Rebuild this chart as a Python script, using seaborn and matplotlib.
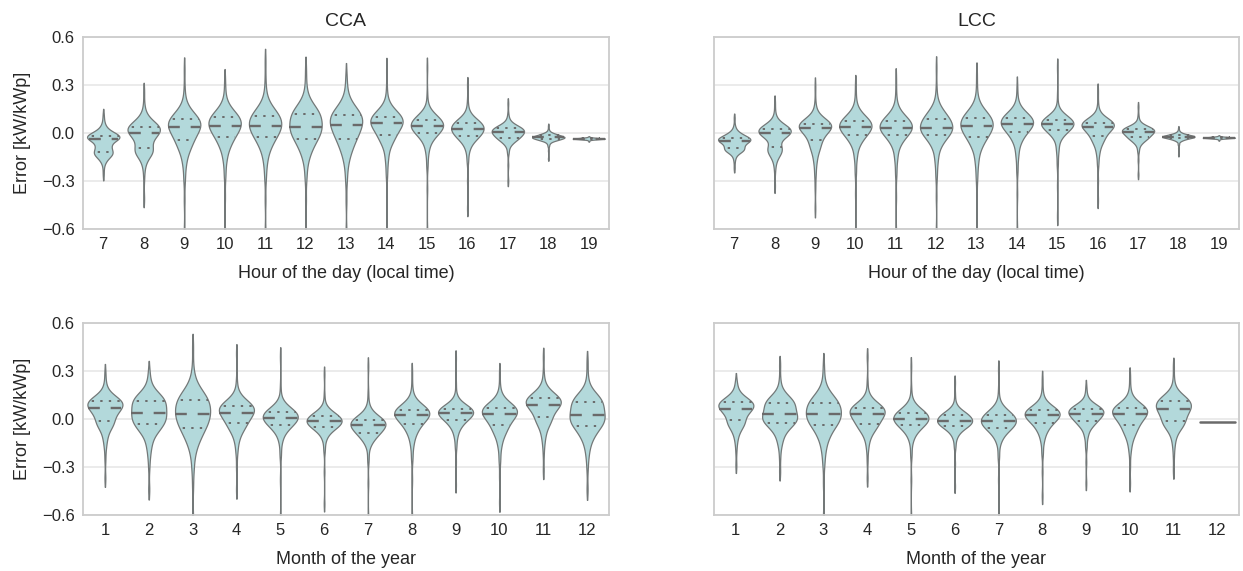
import numpy as np
import pandas as pd
import matplotlib
matplotlib.use("Agg")
import matplotlib.pyplot as plt
from matplotlib.ticker import FuncFormatter
import seaborn as sns

# ---------------- data ----------------
hours = [7, 8, 9, 10, 11, 12, 13, 14, 15, 16, 17, 18, 19]
months = [1, 2, 3, 4, 5, 6, 7, 8, 9, 10, 11, 12]

# number of observations at each listed error level (shared by every violin)
level_counts = [1, 1, 2, 4, 9, 11, 12, 12, 12, 11, 9, 4, 2, 1, 1]

# error levels [kW/kWp] for each violin, low tail -> q1 (6th) -> median (8th) -> q3 (10th) -> high tail
cca_hour_vals = [
    [-0.26, -0.215, -0.18, -0.16, -0.135, -0.117, -0.08, -0.04, -0.028, -0.017, 0.0, 0.025, 0.05, 0.08, 0.115],
    [-0.41, -0.28, -0.21, -0.16, -0.125, -0.096, -0.04, 0.0, 0.02, 0.04, 0.065, 0.095, 0.13, 0.18, 0.26],
    [-0.62, -0.42, -0.28, -0.18, -0.1, -0.044, 0.0, 0.0375, 0.06, 0.085, 0.115, 0.15, 0.2, 0.28, 0.4],
    [-0.62, -0.4, -0.26, -0.16, -0.08, -0.023, 0.015, 0.046, 0.072, 0.098, 0.125, 0.16, 0.2, 0.26, 0.33],
    [-0.62, -0.42, -0.27, -0.17, -0.085, -0.025, 0.012, 0.046, 0.076, 0.106, 0.14, 0.18, 0.24, 0.33, 0.45],
    [-0.62, -0.42, -0.27, -0.17, -0.095, -0.035, 0.005, 0.04, 0.08, 0.119, 0.15, 0.19, 0.24, 0.31, 0.4],
    [-0.62, -0.42, -0.28, -0.18, -0.1, -0.035, 0.01, 0.052, 0.085, 0.115, 0.15, 0.19, 0.24, 0.3, 0.36],
    [-0.62, -0.4, -0.25, -0.15, -0.06, -0.0125, 0.03, 0.06, 0.08, 0.102, 0.125, 0.155, 0.2, 0.28, 0.4],
    [-0.62, -0.35, -0.2, -0.11, -0.04, 0.002, 0.024, 0.042, 0.062, 0.081, 0.1, 0.125, 0.16, 0.24, 0.41],
    [-0.47, -0.3, -0.17, -0.1, -0.05, -0.019, 0.003, 0.023, 0.042, 0.06, 0.08, 0.105, 0.14, 0.2, 0.3],
    [-0.3, -0.2, -0.12, -0.075, -0.048, -0.029, -0.012, 0.004, 0.016, 0.029, 0.042, 0.06, 0.085, 0.12, 0.185],
    [-0.16, -0.11, -0.08, -0.06, -0.045, -0.04, -0.03, -0.027, -0.024, -0.015, -0.008, 0.0, 0.01, 0.025, 0.045],
    [-0.052, -0.048, -0.045, -0.042, -0.04, -0.038, -0.036, -0.035, -0.034, -0.032, -0.03, -0.028, -0.026, -0.024, -0.022],
]

lcc_hour_vals = [
    [-0.22, -0.18, -0.15, -0.125, -0.11, -0.094, -0.07, -0.05, -0.04, -0.029, -0.012, 0.005, 0.025, 0.05, 0.095],
    [-0.33, -0.24, -0.19, -0.15, -0.12, -0.0875, -0.03, -0.002, 0.012, 0.027, 0.045, 0.065, 0.09, 0.13, 0.19],
    [-0.47, -0.34, -0.25, -0.17, -0.1, -0.046, 0.0, 0.031, 0.045, 0.058, 0.075, 0.1, 0.135, 0.19, 0.29],
    [-0.62, -0.38, -0.24, -0.14, -0.06, -0.0125, 0.015, 0.0375, 0.057, 0.077, 0.1, 0.13, 0.17, 0.23, 0.3],
    [-0.62, -0.4, -0.25, -0.15, -0.065, -0.0125, 0.012, 0.033, 0.055, 0.077, 0.1, 0.135, 0.18, 0.25, 0.34],
    [-0.62, -0.4, -0.26, -0.16, -0.07, -0.015, 0.01, 0.033, 0.06, 0.09, 0.12, 0.155, 0.2, 0.28, 0.41],
    [-0.62, -0.4, -0.27, -0.17, -0.08, -0.023, 0.012, 0.042, 0.07, 0.096, 0.125, 0.16, 0.205, 0.28, 0.37],
    [-0.62, -0.38, -0.23, -0.13, -0.045, 0.008, 0.035, 0.058, 0.077, 0.096, 0.115, 0.14, 0.175, 0.22, 0.29],
    [-0.52, -0.33, -0.19, -0.1, -0.02, 0.019, 0.037, 0.054, 0.068, 0.081, 0.096, 0.115, 0.15, 0.23, 0.41],
    [-0.42, -0.3, -0.19, -0.12, -0.06, -0.019, 0.015, 0.04, 0.053, 0.065, 0.08, 0.1, 0.13, 0.18, 0.26],
    [-0.26, -0.17, -0.11, -0.07, -0.045, -0.027, -0.01, 0.006, 0.016, 0.027, 0.038, 0.052, 0.075, 0.11, 0.165],
    [-0.135, -0.095, -0.07, -0.05, -0.04, -0.032, -0.026, -0.023, -0.02, -0.014, -0.008, 0.0, 0.008, 0.018, 0.032],
    [-0.046, -0.042, -0.039, -0.036, -0.034, -0.032, -0.03, -0.029, -0.028, -0.026, -0.024, -0.022, -0.02, -0.018, -0.016],
]

cca_month_vals = [
    [-0.37, -0.25, -0.17, -0.11, -0.05, -0.01, 0.035, 0.069, 0.09, 0.11, 0.13, 0.155, 0.19, 0.23, 0.29],
    [-0.44, -0.3, -0.22, -0.15, -0.08, -0.033, 0.0, 0.0375, 0.075, 0.1125, 0.14, 0.17, 0.21, 0.25, 0.3],
    [-0.62, -0.42, -0.3, -0.2, -0.12, -0.056, -0.01, 0.033, 0.075, 0.117, 0.155, 0.2, 0.25, 0.32, 0.45],
    [-0.44, -0.3, -0.2, -0.13, -0.07, -0.027, 0.01, 0.04, 0.062, 0.083, 0.105, 0.135, 0.17, 0.24, 0.41],
    [-0.62, -0.38, -0.22, -0.13, -0.07, -0.035, -0.012, 0.008, 0.025, 0.042, 0.06, 0.085, 0.12, 0.2, 0.39],
    [-0.53, -0.33, -0.19, -0.12, -0.075, -0.048, -0.03, -0.015, 0.0, 0.017, 0.035, 0.055, 0.085, 0.15, 0.28],
    [-0.62, -0.4, -0.25, -0.16, -0.115, -0.085, -0.06, -0.0375, -0.022, -0.008, 0.012, 0.04, 0.08, 0.16, 0.33],
    [-0.62, -0.38, -0.24, -0.15, -0.08, -0.029, 0.0, 0.027, 0.043, 0.058, 0.078, 0.105, 0.14, 0.2, 0.29],
    [-0.41, -0.27, -0.17, -0.1, -0.045, -0.006, 0.016, 0.035, 0.05, 0.065, 0.082, 0.105, 0.14, 0.22, 0.38],
    [-0.52, -0.36, -0.25, -0.16, -0.09, -0.04, 0.0, 0.031, 0.05, 0.069, 0.09, 0.115, 0.15, 0.2, 0.29],
    [-0.32, -0.22, -0.15, -0.09, -0.03, 0.015, 0.06, 0.09, 0.11, 0.131, 0.155, 0.185, 0.225, 0.29, 0.39],
    [-0.44, -0.31, -0.23, -0.16, -0.095, -0.042, -0.01, 0.025, 0.065, 0.104, 0.135, 0.165, 0.205, 0.27, 0.36],
]

lcc_month_vals = [
    [-0.29, -0.2, -0.14, -0.09, -0.045, -0.008, 0.035, 0.065, 0.085, 0.104, 0.125, 0.15, 0.18, 0.21, 0.24],
    [-0.33, -0.24, -0.17, -0.12, -0.065, -0.023, 0.0, 0.029, 0.065, 0.098, 0.125, 0.155, 0.19, 0.25, 0.34],
    [-0.62, -0.4, -0.27, -0.18, -0.1, -0.0375, -0.005, 0.029, 0.065, 0.098, 0.13, 0.165, 0.21, 0.27, 0.34],
    [-0.37, -0.26, -0.18, -0.12, -0.07, -0.033, 0.0, 0.029, 0.05, 0.071, 0.092, 0.12, 0.155, 0.23, 0.39],
    [-0.62, -0.38, -0.22, -0.13, -0.075, -0.04, -0.018, 0.0, 0.018, 0.035, 0.055, 0.08, 0.115, 0.19, 0.33],
    [-0.42, -0.28, -0.17, -0.11, -0.07, -0.042, -0.027, -0.0125, 0.005, 0.023, 0.04, 0.06, 0.09, 0.15, 0.23],
    [-0.62, -0.38, -0.23, -0.14, -0.09, -0.054, -0.035, -0.015, 0.004, 0.023, 0.045, 0.07, 0.105, 0.18, 0.31],
    [-0.48, -0.33, -0.21, -0.13, -0.07, -0.025, 0.0, 0.023, 0.038, 0.054, 0.073, 0.098, 0.13, 0.18, 0.25],
    [-0.4, -0.27, -0.17, -0.1, -0.045, -0.0125, 0.012, 0.033, 0.049, 0.065, 0.08, 0.1, 0.125, 0.16, 0.2],
    [-0.4, -0.29, -0.2, -0.14, -0.085, -0.0375, 0.0, 0.029, 0.049, 0.069, 0.09, 0.115, 0.15, 0.2, 0.27],
    [-0.32, -0.23, -0.16, -0.1, -0.05, -0.015, 0.025, 0.06, 0.085, 0.11, 0.135, 0.16, 0.195, 0.25, 0.33],
    [-0.019, -0.019],
]

panel_titles = ["CCA", "LCC"]
hour_label = "Hour of the day (local time)"
month_label = "Month of the year"
y_label = "Error [kW/kWp]"
y_ticks = [-0.6, -0.3, 0.0, 0.3, 0.6]


def to_frame(cats, vals):
    rows = []
    for c, v in zip(cats, vals):
        reps = level_counts if len(v) == len(level_counts) else [1] * len(v)
        for x in np.repeat(v, reps):
            rows.append((str(c), x))
    return pd.DataFrame(rows, columns=["cat", "err"])


# ---------------- style ----------------
sns.set_theme(style="whitegrid", rc={
    "axes.edgecolor": "#cccccc",
    "axes.linewidth": 1.3,
    "grid.color": "#e6e6e6",
    "grid.linewidth": 1.1,
    "text.color": "#262626",
    "axes.labelcolor": "#262626",
    "xtick.color": "#262626",
    "ytick.color": "#262626",
})
plt.rcParams["font.family"] = ["Liberation Sans", "DejaVu Sans"]

fill = "#b3d9db"
edge = "#737878"
inner_col = "#6a6a6a"

fig = plt.figure(figsize=(12.43, 5.71), dpi=100)
W, H = 1243, 571
boxes = {
    (0, 0): [83 / W, 1 - 229 / H, 526 / W, 192 / H],
    (0, 1): [714 / W, 1 - 229 / H, 525 / W, 192 / H],
    (1, 0): [83 / W, 1 - 515 / H, 526 / W, 192 / H],
    (1, 1): [714 / W, 1 - 515 / H, 525 / W, 192 / H],
}

panels = [
    ((0, 0), hours, cca_hour_vals, hour_label, panel_titles[0]),
    ((0, 1), hours, lcc_hour_vals, hour_label, panel_titles[1]),
    ((1, 0), months, cca_month_vals, month_label, None),
    ((1, 1), months, lcc_month_vals, month_label, None),
]

fmt = FuncFormatter(lambda v, p: f"{v:.1f}".replace("-", "\u2212") if abs(v) > 1e-9 else "0.0")


def restyle_inner(ax):
    groups = {}
    for ln in ax.lines:
        xd = np.asarray(ln.get_xdata(), float)
        yd = np.asarray(ln.get_ydata(), float)
        if xd.size < 2:
            continue
        groups.setdefault(int(round(xd.mean())), []).append((yd.mean(), ln))
    for items in groups.values():
        items.sort(key=lambda t: t[0])
        if len(items) == 3:
            for i, (_, ln) in enumerate(items):
                ln.set_color(inner_col)
                if i == 1:
                    ln.set_linewidth(1.7)
                    ln.set_linestyle((0, (5.0, 4.6)))
                else:
                    ln.set_linewidth(1.4)
                    ln.set_linestyle((2.5, (1.2, 3.2)))
        else:
            for _, ln in items:
                ln.set_color(inner_col)
                ln.set_linewidth(1.8)
                ln.set_linestyle("-")


for key, cats, vals, xlabel, title in panels:
    ax = fig.add_axes(boxes[key])
    df = to_frame(cats, vals)
    sns.violinplot(
        data=df, x="cat", y="err", order=[str(c) for c in cats],
        color=fill, saturation=1, inner="quart", density_norm="width",
        linewidth=0.9, linecolor=edge, bw_adjust=0.9, cut=1.5, width=0.8,
        ax=ax,
    )
    restyle_inner(ax)
    ax.set_ylim(-0.6, 0.6)
    ax.set_yticks(y_ticks)
    ax.yaxis.set_major_formatter(fmt)
    ax.tick_params(axis="both", labelsize=12, length=0, pad=6)
    ax.set_xlabel(xlabel, fontsize=13, labelpad=9)
    if key[1] == 0:
        ax.set_ylabel(y_label, fontsize=13, labelpad=8)
    else:
        ax.set_ylabel("")
        ax.tick_params(axis="y", labelleft=False)
    if title:
        ax.set_title(title, fontsize=14, pad=8)
    ax.xaxis.grid(False)
    for s in ax.spines.values():
        s.set_visible(True)
        s.set_color("#cccccc")

fig.savefig("out.png", dpi=100)
